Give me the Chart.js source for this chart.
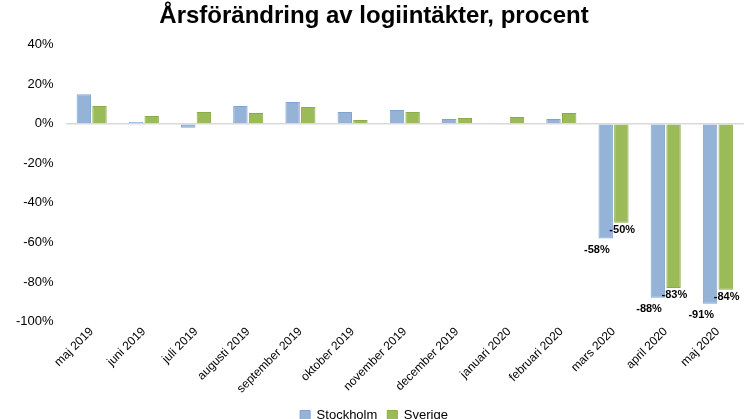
<!DOCTYPE html>
<html>
<head>
<meta charset="utf-8">
<script src="https://cdn.jsdelivr.net/npm/chart.js@4"></script>
<style>
  html, body { margin: 0; padding: 0; overflow: hidden; background: #fff; }
  #wrap { width: 746px; height: 432px; }
</style>
</head>
<body>
<div id="wrap"><canvas id="chart"></canvas></div>
<script>
const months = ['maj 2019', 'juni 2019', 'juli 2019', 'augusti 2019', 'september 2019', 'oktober 2019',
  'november 2019', 'december 2019', 'januari 2020', 'februari 2020', 'mars 2020', 'april 2020', 'maj 2020'];
const stockholm = [15, 1, -2, 9, 11, 6, 7, 2.5, -0.5, 2.5, -58, -88, -91];
const sverige = [9, 4, 6, 5.5, 8.5, 2, 6, 3, 3.5, 5.5, -50, -83, -84];
const labelFrom = 10;

const endLabels = {
  id: 'endLabels',
  afterDatasetsDraw(chart) {
    const ctx = chart.ctx;
    ctx.save();
    ctx.font = 'bold 11px "Liberation Sans", Arial';
    ctx.fillStyle = '#000';
    ctx.textBaseline = 'top';
    chart.data.datasets.forEach((ds, di) => {
      const meta = chart.getDatasetMeta(di);
      meta.data.forEach((bar, i) => {
        if (i < labelFrom) return;
        const v = ds.data[i];
        if (di === 0) {
          ctx.textAlign = 'right';
          ctx.fillText(Math.round(v) + '%', bar.x + 4, bar.y + 6);
        } else {
          ctx.textAlign = 'left';
          ctx.fillText(Math.round(v) + '%', bar.x - 12, bar.y + 2);
        }
      });
    });
    ctx.restore();
  }
};

new Chart(document.getElementById('chart'), {
  type: 'bar',
  data: {
    labels: months,
    datasets: [
      { label: 'Stockholm', data: stockholm, backgroundColor: '#95b3d7', borderColor: '#7fa3cf', borderWidth: 1 },
      { label: 'Sverige', data: sverige, backgroundColor: '#9bbb59', borderColor: '#8aab48', borderWidth: 1 }
    ]
  },
  plugins: [endLabels],
  options: {
    responsive: true,
    maintainAspectRatio: false,
    animation: false,
    layout: { padding: { left: 4, right: 2, top: 0, bottom: 0 } },
    datasets: { bar: { categoryPercentage: 0.6, barPercentage: 0.92 } },
    scales: {
      x: {
        grid: { display: false, drawTicks: false },
        border: { display: false },
        ticks: { color: '#000', font: { size: 12, family: '"Liberation Sans", Arial' }, maxRotation: 45, minRotation: 45, autoSkip: false }
      },
      y: {
        min: -100, max: 40,
        grid: {
          color: ctx => ctx.tick.value === 0 ? '#d9d9d9' : 'rgba(0,0,0,0)',
          lineWidth: 1.5, drawTicks: false
        },
        border: { display: false },
        ticks: { stepSize: 20, color: '#000', padding: 12, font: { size: 13, family: '"Liberation Sans", Arial' }, callback: v => v + '%' }
      }
    },
    plugins: {
      title: {
        display: true,
        text: 'Årsförändring av logiintäkter, procent',
        color: '#000',
        font: { size: 24, weight: 'bold', family: '"Liberation Sans", Arial' },
        padding: { top: 2, bottom: 14 }
      },
      legend: {
        position: 'bottom',
        labels: { color: '#000', boxWidth: 10, boxHeight: 10, font: { size: 13, family: '"Liberation Sans", Arial' } }
      },
      tooltip: { enabled: false }
    }
  }
});
</script>
</body>
</html>
